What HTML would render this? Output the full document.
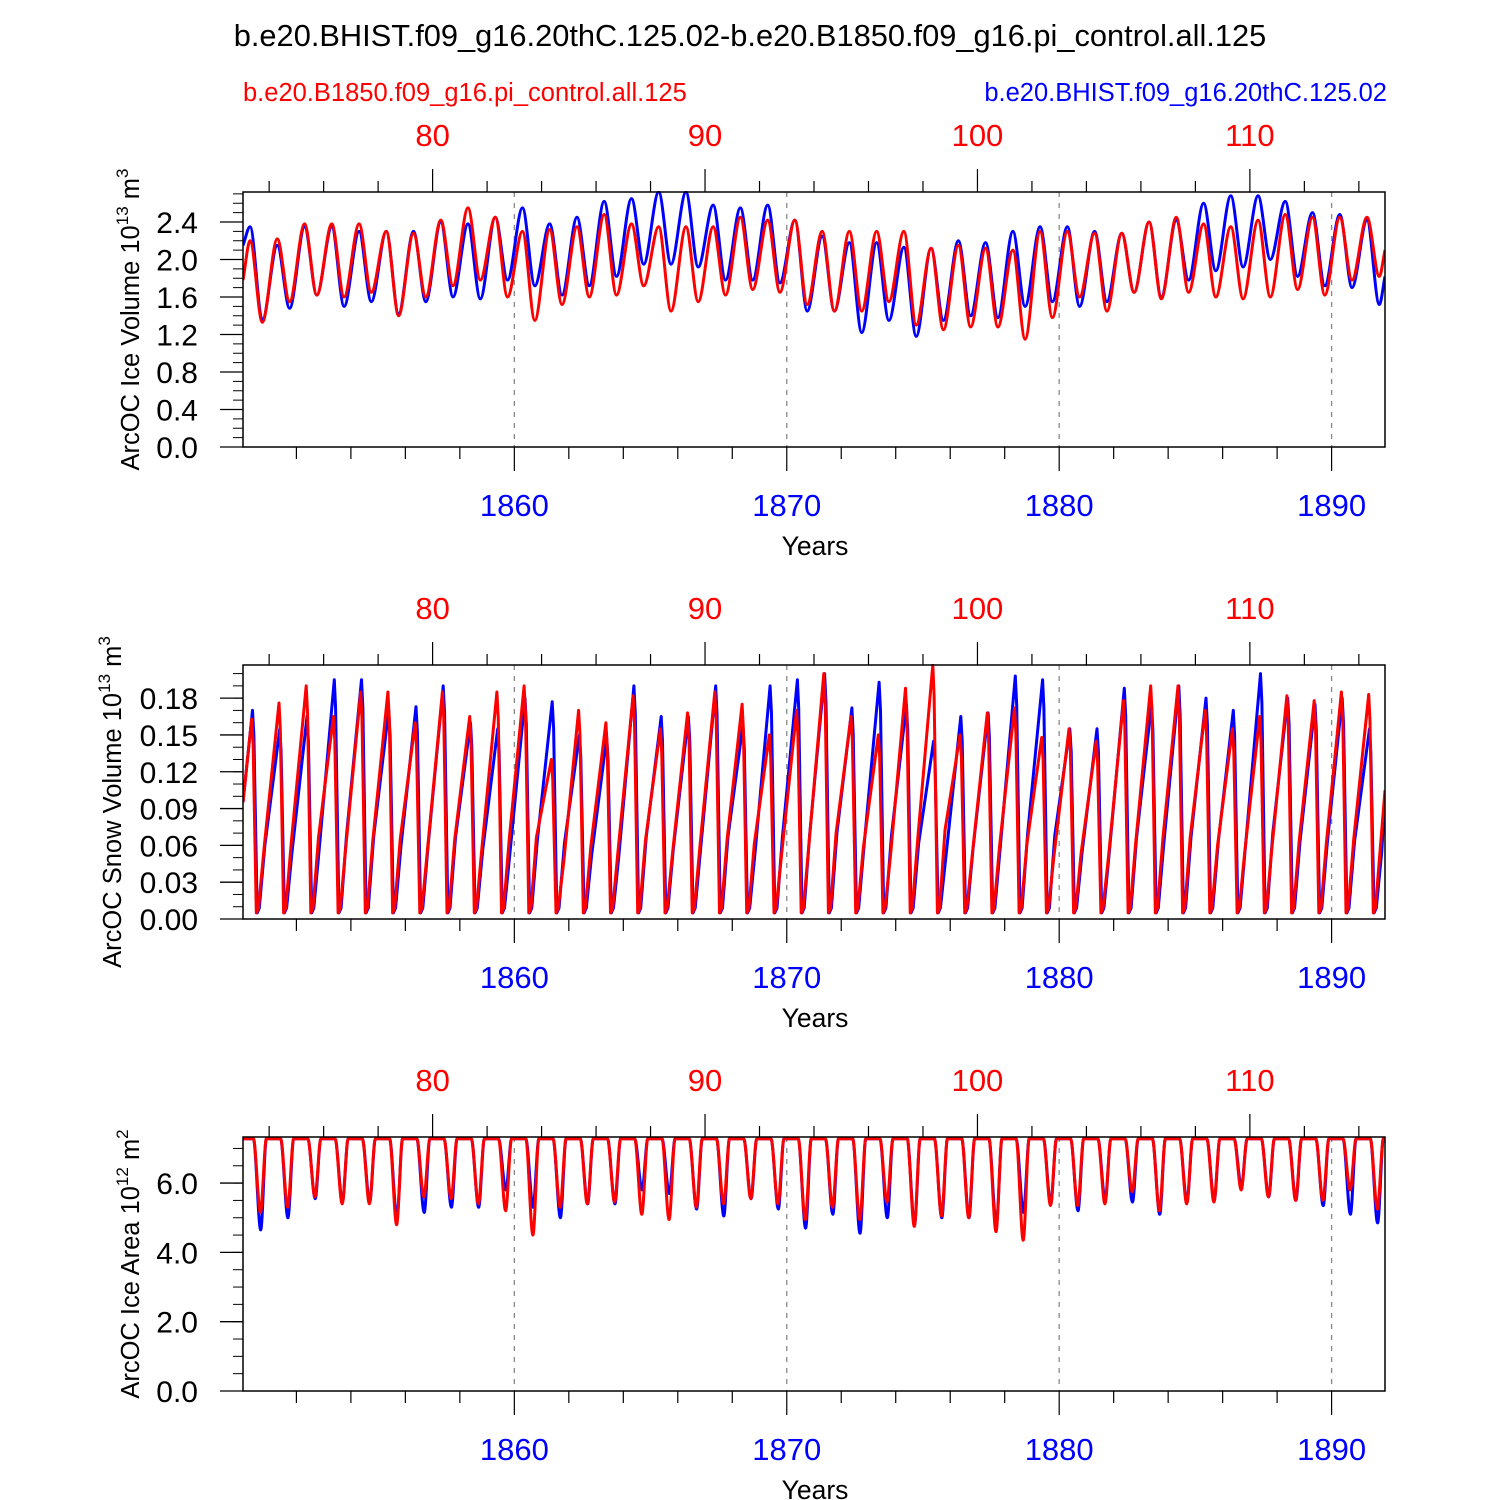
<!DOCTYPE html>
<html><head><meta charset="utf-8"><style>
body{margin:0;background:#fff}
svg{display:block}
text{font-family:"Liberation Sans",sans-serif}
</style></head><body>
<svg id="chart" width="1500" height="1500" viewBox="0 0 1500 1500">
<text x="750" y="46" text-anchor="middle" font-size="30.8" fill="#000">b.e20.BHIST.f09_g16.20thC.125.02-b.e20.B1850.f09_g16.pi_control.all.125</text>
<text x="243" y="101" font-size="25.5" fill="#f00">b.e20.B1850.f09_g16.pi_control.all.125</text>
<text x="1387" y="101" text-anchor="end" font-size="25.5" fill="#00f">b.e20.BHIST.f09_g16.20thC.125.02</text>
</svg>
<script>
const years=[];for(let y=1850;y<=1891;y++)years.push(y);
// Panel 1: ice volume peaks/troughs
const volBluePeak=[2.35,2.15,2.35,2.35,2.3,2.3,2.3,2.4,2.38,2.45,2.55,2.38,2.45,2.62,2.65,2.72,2.72,2.58,2.55,2.58,2.42,2.25,2.18,2.18,2.13,2.12,2.2,2.18,2.3,2.35,2.35,2.3,2.28,2.4,2.42,2.6,2.68,2.68,2.62,2.5,2.48,2.42];
const volBlueTrough=[1.35,1.48,1.62,1.5,1.55,1.42,1.55,1.6,1.58,1.78,1.72,1.62,1.72,1.82,1.95,1.95,1.92,1.78,1.78,1.75,1.45,1.45,1.22,1.35,1.18,1.35,1.4,1.38,1.5,1.55,1.5,1.55,1.65,1.6,1.78,1.88,1.92,2.0,1.82,1.72,1.7,1.52];
const volRedPeak=[2.2,2.22,2.38,2.38,2.38,2.3,2.28,2.42,2.55,2.45,2.3,2.32,2.35,2.48,2.38,2.35,2.35,2.35,2.45,2.42,2.42,2.3,2.3,2.3,2.3,2.12,2.15,2.12,2.1,2.3,2.3,2.28,2.28,2.4,2.45,2.38,2.35,2.42,2.48,2.45,2.45,2.45];
const volRedTrough=[1.33,1.55,1.62,1.6,1.65,1.4,1.6,1.72,1.78,1.6,1.35,1.52,1.6,1.62,1.72,1.45,1.55,1.62,1.68,1.65,1.52,1.45,1.45,1.55,1.3,1.25,1.28,1.28,1.15,1.38,1.6,1.45,1.65,1.58,1.65,1.6,1.58,1.6,1.68,1.62,1.78,1.82];
const volEnds={blue:[2.15,1.82],red:[1.78,2.1]};
// Panel 2: snow volume
const snowBluePeak=[0.17,0.155,0.165,0.195,0.195,0.17,0.173,0.19,0.16,0.155,0.18,0.177,0.15,0.148,0.19,0.165,0.165,0.19,0.158,0.19,0.195,0.2,0.172,0.193,0.175,0.145,0.165,0.168,0.198,0.195,0.155,0.155,0.188,0.175,0.19,0.18,0.17,0.2,0.18,0.175,0.18,0.155];
const snowRedPeak=[0.163,0.176,0.19,0.165,0.185,0.185,0.16,0.185,0.165,0.185,0.19,0.13,0.17,0.16,0.182,0.155,0.168,0.185,0.175,0.15,0.17,0.2,0.165,0.15,0.188,0.207,0.15,0.168,0.172,0.148,0.155,0.145,0.178,0.19,0.19,0.17,0.155,0.165,0.182,0.178,0.185,0.183];
const snowTrough=0.005;
const snowEnds={blue:[0.095,0.1],red:[0.095,0.105]};
// Panel 3: ice area
const areaBlueTrough=[4.65,5.0,5.55,5.45,5.45,5.0,5.15,5.3,5.3,5.8,5.3,5.0,5.4,5.4,5.8,5.7,5.25,5.05,5.55,5.25,4.7,5.1,4.55,5.0,4.8,5.0,5.0,4.8,5.15,5.4,5.2,5.5,5.45,5.1,5.45,5.5,5.9,5.6,5.5,5.35,5.1,4.85];
const areaRedTrough=[5.15,5.3,5.6,5.4,5.4,4.8,5.6,5.55,5.4,5.2,4.5,5.3,5.4,5.45,5.1,4.95,5.3,5.4,5.55,5.4,4.95,5.3,4.95,5.45,4.75,5.05,5.0,4.6,4.35,5.35,5.35,5.4,5.75,5.2,5.4,5.45,5.8,5.6,5.5,5.5,5.8,5.25];
const areaMax=7.28;

const NS='http://www.w3.org/2000/svg';
const svg=document.getElementById('chart');
function el(tag,attrs,parent){const e=document.createElementNS(NS,tag);for(const k in attrs)e.setAttribute(k,attrs[k]);(parent||svg).appendChild(e);return e;}
const X0=243,X1=1385,T0=1850.04,T1=1891.96;
const xs=t=>X0+(t-T0)/(T1-T0)*(X1-X0);

function smoothPath(p){const n=p.length,dx=[],m=[],t=[];
 for(let i=0;i<n-1;i++){dx.push(p[i+1][0]-p[i][0]);m.push((p[i+1][1]-p[i][1])/dx[i]);}
 t[0]=m[0];t[n-1]=m[n-2];
 for(let i=1;i<n-1;i++){if(m[i-1]*m[i]<=0)t[i]=0;else{const w1=2*dx[i]+dx[i-1],w2=dx[i]+2*dx[i-1];t[i]=(w1+w2)/(w1/m[i-1]+w2/m[i]);}}
 let d='M'+p[0][0].toFixed(1)+','+p[0][1].toFixed(1);
 for(let i=0;i<n-1;i++){const h=dx[i]/3;
  d+=' C'+(p[i][0]+h).toFixed(1)+','+(p[i][1]+t[i]*h).toFixed(1)+' '+(p[i+1][0]-h).toFixed(1)+','+(p[i+1][1]-t[i+1]*h).toFixed(1)+' '+p[i+1][0].toFixed(1)+','+p[i+1][1].toFixed(1);}
 return d;}
function linePath(pts){return 'M'+pts.map(p=>p[0].toFixed(1)+','+p[1].toFixed(1)).join(' L');}

const defs=el('defs',{});
const panels=[
 {top:192,bot:447,ymax:2.72,major:[0,0.4,0.8,1.2,1.6,2.0,2.4],fmt:v=>v.toFixed(1),minorStep:0.1,title:'ArcOC Ice Volume 10',sup:'13',unit:' m',usup:'3',name:'ice-volume'},
 {top:665,bot:919,ymax:0.207,major:[0,0.03,0.06,0.09,0.12,0.15,0.18],fmt:v=>v.toFixed(2),minorStep:0.01,title:'ArcOC Snow Volume 10',sup:'13',unit:' m',usup:'3',name:'snow-volume'},
 {top:1137,bot:1391,ymax:7.33,major:[0,2,4,6],fmt:v=>v.toFixed(1),minorStep:0.5,title:'ArcOC Ice Area 10',sup:'12',unit:' m',usup:'2',name:'ice-area'}
];
panels.forEach((P,pi)=>{
 const g=el('g',{});
 
 
 const cp=el('clipPath',{id:'clip'+pi},defs);
 el('rect',{x:X0,y:P.top-1,width:X1-X0,height:P.bot-P.top+2},cp);
 const ys=v=>P.bot-v/P.ymax*(P.bot-P.top);
 [1860,1870,1880,1890].forEach(yr=>{const l=el('line',{x1:xs(yr),x2:xs(yr),y1:P.top,y2:P.bot,stroke:'#888','stroke-width':1.3,'stroke-dasharray':'5,6'},g);
  
  });
 let series;
 if(pi===0){
  series=[['blue','#00f',volBluePeak,volBlueTrough],['red','#f00',volRedPeak,volRedTrough]].map(([n,c,pk,tr])=>{
   const pts=[[xs(T0),ys(volEnds[n][0])]];
   years.forEach((y,i)=>{pts.push([xs(y+0.3),ys(pk[i])]);pts.push([xs(y+0.75),ys(tr[i])]);});
   pts.push([xs(T1),ys(volEnds[n][1])]);return [n,c,smoothPath(pts)];});
 } else if(pi===1){
  series=[['blue','#00f',snowBluePeak,0.39],['red','#f00',snowRedPeak,0.36]].map(([n,c,pk,off])=>{
   const pts=[[xs(T0),ys(snowEnds[n][0])]];
   years.forEach((y,i)=>{pts.push([xs(y+off),ys(pk[i])]);pts.push([xs(y+off+0.05),ys(pk[i]*0.88)]);pts.push([xs(y+off+0.17),ys(snowTrough)]);pts.push([xs(y+off+0.25),ys(snowTrough+0.004)]);pts.push([xs(y+off+0.45),ys(pk[i]*0.35)]);});
   pts.push([xs(T1),ys(snowEnds[n][1])]);return [n,c,linePath(pts)];});
 } else {
  series=[['blue','#00f',areaBlueTrough,0.69],['red','#f00',areaRedTrough,0.68]].map(([n,c,tr,off])=>{
   const pts=[[xs(T0),ys(areaMax)]];
   years.forEach((y,i)=>{pts.push([xs(y+0.42),ys(areaMax)]);pts.push([xs(y+off),ys(tr[i])]);pts.push([xs(y+0.9),ys(areaMax)]);});
   pts.push([xs(T1),ys(areaMax)]);return [n,c,smoothPath(pts)];});
 }
 series.forEach(([n,c,d])=>{const p=el('path',{d:d,fill:'none',stroke:c,'stroke-width':3,'stroke-linejoin':'round','clip-path':'url(#clip'+pi+')'},g);
  
  });
 const fr=el('rect',{x:X0,y:P.top,width:X1-X0,height:P.bot-P.top,fill:'none',stroke:'#000','stroke-width':1.5},g);
 
 
 for(let v=0;v<=P.ymax+1e-9;v+=P.minorStep){el('line',{x1:X0-10,x2:X0,y1:ys(v),y2:ys(v),stroke:'#000','stroke-width':1},g);}
 P.major.forEach(v=>{el('line',{x1:X0-23,x2:X0,y1:ys(v),y2:ys(v),stroke:'#000','stroke-width':1.3},g);
  const t=el('text',{x:X0-45,y:ys(v)+11,'text-anchor':'end','font-size':30,fill:'#000'},g);t.textContent=P.fmt(v);
  
  });
 for(let yr=1852;yr<=1890;yr+=2){const maj=yr%10===0;el('line',{x1:xs(yr),x2:xs(yr),y1:P.bot,y2:P.bot+(maj?24:12),stroke:'#000','stroke-width':1.2},g);
  if(maj){const t=el('text',{x:xs(yr),y:P.bot+69,'text-anchor':'middle','font-size':31,fill:'#00f'},g);t.textContent=yr;
   
   }}
 for(let yr=1851;yr<=1891;yr+=2){const maj=(yr-1777)%10===0;el('line',{x1:xs(yr),x2:xs(yr),y1:P.top,y2:P.top-(maj?23:11),stroke:'#000','stroke-width':1.2},g);
  if(maj){const t=el('text',{x:xs(yr),y:P.top-46,'text-anchor':'middle','font-size':31,fill:'#f00'},g);t.textContent=yr-1777;
   
   }}
 const xt=el('text',{x:815,y:P.bot+108,'text-anchor':'middle','font-size':26.5,fill:'#000'},g);xt.textContent='Years';
 
 
 const cy=(P.top+P.bot)/2+(pi===1?10:0), cx=pi===1?121:139;
 const yt=el('text',{x:cx,y:cy,'text-anchor':'middle','font-size':25.5,fill:'#000',transform:'rotate(-90 '+cx+' '+cy+')'},g);
 yt.innerHTML=P.title+'<tspan dy="-11" font-size="17">'+P.sup+'</tspan><tspan dy="11">'+P.unit+'</tspan><tspan dy="-11" font-size="17">'+P.usup+'</tspan>';
 
 
});
</script>
</body></html>
